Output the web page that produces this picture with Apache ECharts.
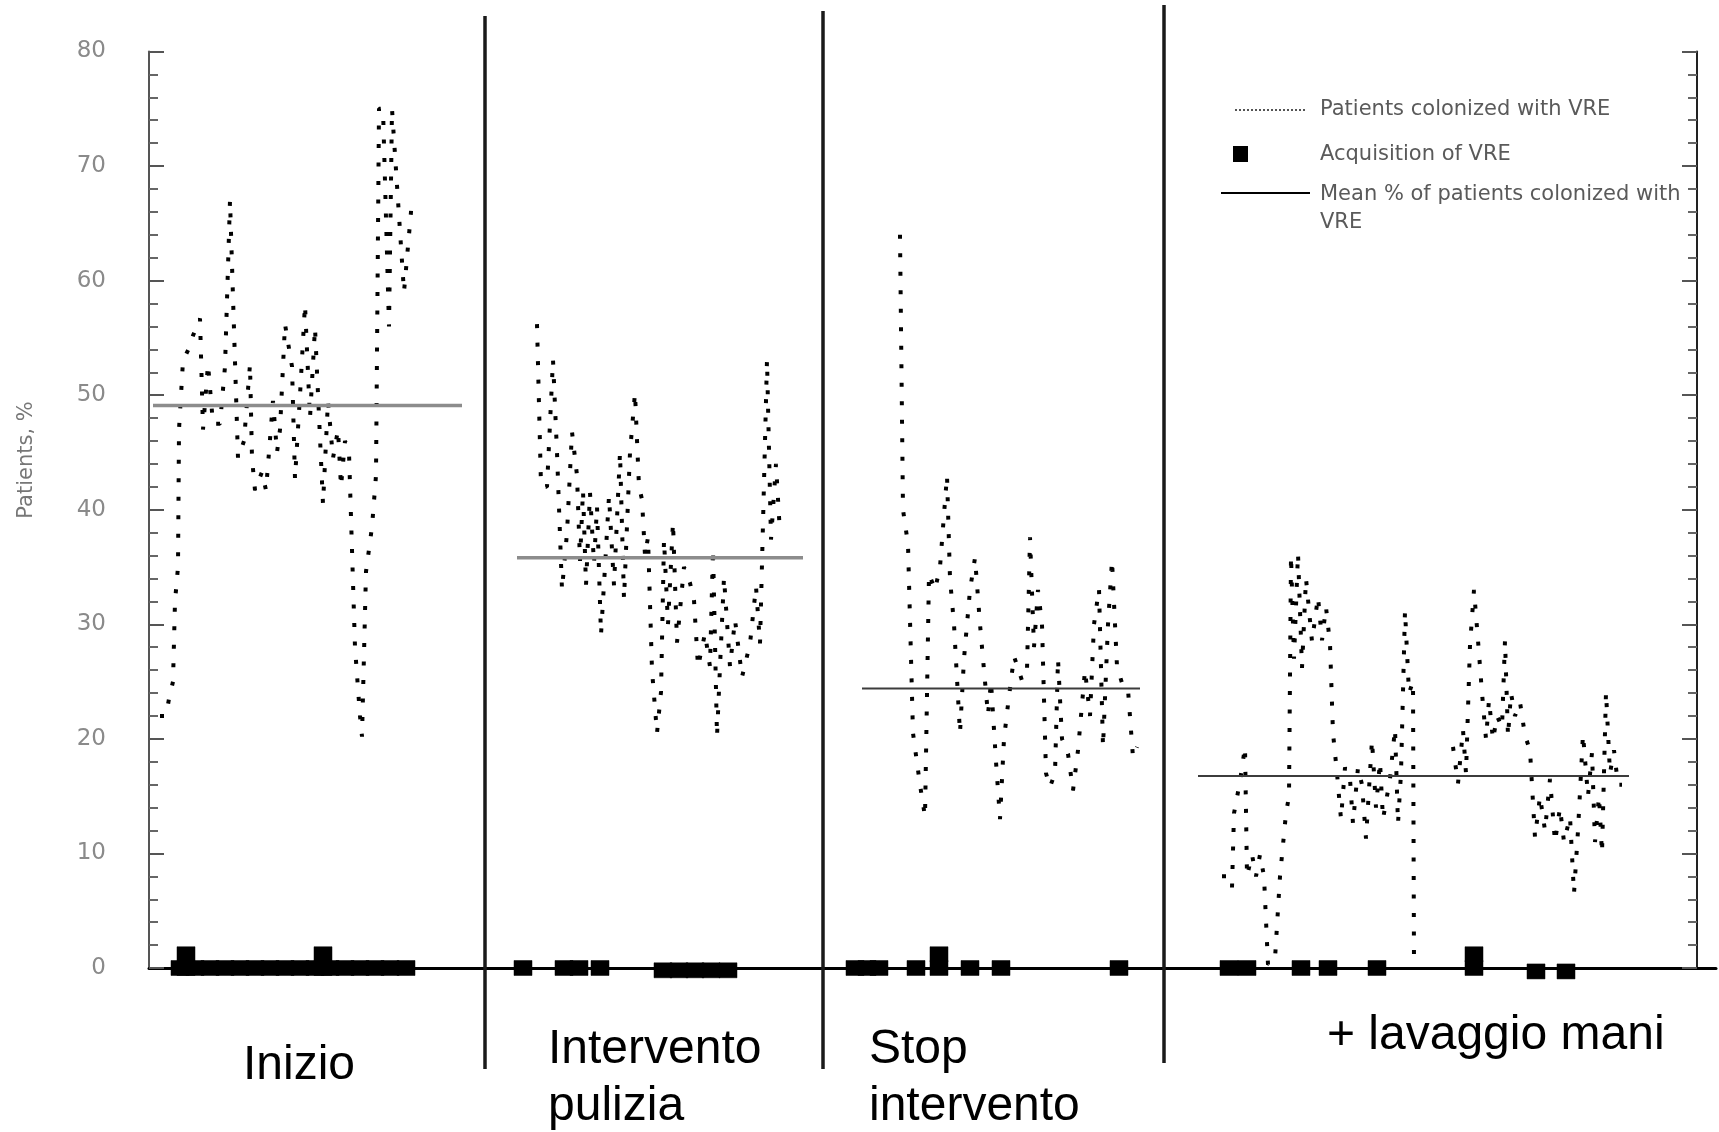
<!DOCTYPE html>
<html>
<head>
<meta charset="utf-8">
<script src="https://cdn.jsdelivr.net/npm/echarts/dist/echarts.min.js"></script>
<style>
html,body{margin:0;padding:0;background:#fff;}
#chart{width:1719px;height:1132px;}
</style>
</head>
<body>
<div id="chart"></div>
<script>
// ---------------- DATA (x = day of study, y = % of patients) ----------------
const yTicks = [0, 10, 20, 30, 40, 50, 60, 70, 80];
const phaseLabels = ['Inizio', 'Intervento\npulizia', 'Stop\nintervento', '+ lavaggio mani'];
const phaseBoundaries = [84, 168.5, 253.75];

const colonizedPhase1 = [[2.75,22],[4.25,22],[5,23.5],[6,25],[6.5,32],[7.25,35],[7.5,47],[8.5,53],[10,54.1],[11,55.2],[12.75,56.7],[13.5,47],[14.75,52.7],[16,47.5],[17.75,47.5],[19,52.5],[20.25,67],[22.25,44.5],[23.75,46],[25.25,52.7],[25.75,44.5],[26.5,41.7],[28.25,43.3],[29.25,41.7],[31,49.5],[32,45],[32.75,47],[34,56.2],[35.75,52.5],[36.5,42.7],[37.75,50],[39,57.9],[40.25,48],[41.5,55.9],[43.5,40.5],[44.75,49.5],[46,44.5],[47.25,47],[48,42],[49,46],[50,45],[51.5,28],[52.75,22],[53.25,20.2],[54.25,34.6],[55.75,38.5],[56.75,43],[57.5,75],[58.5,75],[60,56],[60.75,75],[62.25,67],[63.75,59],[65.75,67]];

const colonizedPhase2 = [[97,56.2],[98,42.1],[99.5,42],[101,53.1],[102,45],[103.25,33],[104.5,38],[105.75,46.8],[107,43],[107.75,35.5],[108.5,41.7],[109.25,33.4],[110.25,41.5],[111.25,35.3],[112,40.3],[113,29.1],[114,35],[115,41.2],[116.25,33.4],[117.75,45],[118.75,32.2],[120.25,45],[121.5,50.2],[122.5,42],[123.25,40.9],[124,36],[124.75,37.6],[125.75,26],[127,20.5],[128,24.1],[128.75,37.4],[129.75,30],[131,38.9],[132,28.4],[133.75,35],[135.25,33.6],[136.25,32.1],[137.25,26.3],[139,29.2],[140.25,26.3],[141,36.6],[142,20.2],[142.75,26.3],[143.75,34.1],[145.25,26.3],[146.5,30.4],[148.25,25.4],[150.25,28.3],[151.75,33.3],[152.75,28.3],[153.5,38.8],[154.5,53.1],[155.5,37.4],[156.75,44],[157.75,37.9]];

const colonizedPhase3 = [[187.75,64],[188.5,40],[189.75,37],[191,20.5],[192.75,16],[194,13.2],[195,34.4],[196.5,33],[197.75,35],[199.5,43],[200.25,34],[201.25,30],[202.75,20.5],[203.75,27],[205.25,33],[206.5,35.8],[207.75,30],[208.75,26],[209.75,22.1],[210.5,25],[211.75,18],[212.75,13],[213.75,20],[214.75,23],[216.25,27.2],[218.25,25.1],[219.5,26],[220.25,37.6],[221.25,28],[222.25,33],[223.25,30],[224.25,17],[225.25,15.8],[226.5,17],[227.25,27],[228.25,20],[229.75,18.7],[231,15.5],[232.25,19],[234,26],[235.25,22],[236.25,30],[237.5,33.1],[238.5,19.3],[239.75,30],[240.75,35.6],[242,26.3],[243.5,24.6],[244.75,24.3],[246,18.4],[247,19.3]];

const colonizedPhase4 = [[268.25,8],[269.75,8],[270.75,7],[271.25,13.5],[272.75,16.3],[274,19.3],[274.5,8],[275.75,9.9],[276.75,8],[277.75,9.9],[278.75,8],[279.75,0.3],[281.5,0.8],[282.75,8],[284.25,13.5],[285,15],[285.5,36],[286.25,27],[287.25,36.2],[288.25,26.2],[289.25,34],[290.75,28.5],[292.25,32.4],[293.25,28.6],[294.25,31.5],[295.25,28.3],[296,20.5],[297,17],[298,13],[299,17.5],[300.25,16.5],[301,12.6],[302.25,17.5],[303.25,16],[304.25,11.3],[305.75,19.9],[306.75,14],[307.75,18],[308.5,13],[310.25,16.5],[311.5,20.9],[312.25,12.6],[313,17],[314,31.2],[315,24],[316,25],[316.25,0.3],[320,'-'],[326,19.3],[327.25,16.1],[328.5,20.8],[329.25,17],[330.25,28.2],[331.25,33],[332.25,28.6],[333.25,24],[334.25,20],[335,23.4],[336,19.9],[337,22],[338.25,21],[339,28.6],[339.75,20.2],[340.5,24],[341.5,22],[342.75,23.2],[344,20.3],[345.25,19],[346.5,11.4],[347.75,15],[349,12],[350.25,16.5],[351.5,11],[352.75,14],[353.75,11],[355.25,13.2],[356.25,6.5],[357.25,12],[358.5,20.4],[359.75,15],[360.75,18.8],[361.5,11],[362.5,15],[363.25,10],[364.25,24.1],[365.25,17],[366.25,19],[367.25,16],[368.25,16]];

const meanValues = [49.1, 35.8, 24.4, 16.75];
const meanSpans = [[1, 78.25], [92, 163.5], [178.25, 247.75], [262.25, 370]];

const acquisitions = [[7.75,0],[9.25,0],[9.25,1.2],[11.5,0],[15.25,0],[19,0],[22.75,0],[26.5,0],[30.25,0],[34,0],[37.75,0],[41.5,0],[43.5,0],[43.5,1.2],[45.25,0],[49,0],[52.75,0],[56.5,0],[60.25,0],[64.25,0],
  [93.5,0],[103.75,0],[107.5,0],[112.75,0],[128.5,-0.2],[132.5,-0.2],[136.5,-0.2],[140.5,-0.2],[144.75,-0.2],
  [176.5,0],[179.5,0],[182.5,0],[191.75,0],[197.5,0],[197.5,1.2],[205.25,0],[213,0],[242.5,0],
  [270,0],[274.5,0],[288,0],[294.75,0],[307,0],[331.25,0],[331.25,1.2],[346.75,-0.3],[354.25,-0.3]];

const legendLabels = ['Patients colonized with VRE', 'Acquisition of VRE', 'Mean % of patients colonized with\nVRE'];
const yAxisTitle = 'Patients, %';

// ---------------- CHART ----------------
const chart = echarts.init(document.getElementById('chart'), null, {renderer: 'canvas'});

const dotted = {color: '#000', width: 4, type: [4, 14.5], cap: 'butt', opacity: 1};
const colonizedSeries = [colonizedPhase1, colonizedPhase2, colonizedPhase3, colonizedPhase4].map(d => ({
  name: legendLabels[0], type: 'line', data: d, symbol: 'none', connectNulls: false,
  lineStyle: dotted, z: 3, silent: true
}));
const meanStyles = [
  {color: '#8c8c8c', width: 3.5},
  {color: '#8c8c8c', width: 3.5},
  {color: '#3c3c3c', width: 2},
  {color: '#3c3c3c', width: 2}
];
const meanSeries = meanValues.map((v, i) => ({
  name: legendLabels[2], type: 'line', symbol: 'none',
  data: [[meanSpans[i][0], v], [meanSpans[i][1], v]],
  lineStyle: meanStyles[i], z: 4, silent: true
}));

const tickStyle = {color: '#555', width: 2};
const option = {
  animation: false,
  backgroundColor: '#fff',
  grid: {left: 149, right: 3, top: 51.5, bottom: 164, containLabel: false},
  xAxis: {
    type: 'value', min: 0, max: 391.75,
    axisLine: {show: true, onZero: true, lineStyle: {color: '#000', width: 3}},
    axisTick: {show: false}, axisLabel: {show: false}, splitLine: {show: false}
  },
  yAxis: [{
    type: 'value', position: 'left', min: yTicks[0], max: yTicks[yTicks.length - 1], interval: 10,
    axisLine: {show: true, onZero: false, lineStyle: {color: '#555', width: 2}},
    axisTick: {show: true, inside: true, length: 15, lineStyle: tickStyle},
    minorTick: {show: true, splitNumber: 5, length: 9, lineStyle: {color: '#666', width: 2}},
    axisLabel: {margin: 43, color: '#8a8a8a', fontFamily: 'DejaVu Sans', fontSize: 23},
    splitLine: {show: false}, minorSplitLine: {show: false}
  }, {
    type: 'value', position: 'right', offset: -19, min: 0, max: 80, interval: 10,
    axisLine: {show: true, onZero: false, lineStyle: {color: '#222', width: 2}},
    axisTick: {show: true, inside: true, length: 15, lineStyle: tickStyle},
    minorTick: {show: true, splitNumber: 5, length: 9, lineStyle: {color: '#666', width: 2}},
    axisLabel: {show: false}, splitLine: {show: false}
  }],
  series: [
    ...colonizedSeries,
    ...meanSeries,
    {
      name: legendLabels[1], type: 'scatter', data: acquisitions, clip: false,
      symbol: 'rect', symbolSize: [18, 15],
      itemStyle: {color: '#000', opacity: 1, borderColor: '#000', borderWidth: 0.5},
      z: 5, silent: true
    }
  ]
};
chart.setOption(option);

// ---------------- ANNOTATIONS (separators, labels, legend) ----------------
const sepExtents = [[16, 1069], [11, 1069], [5, 1063]];
const graphics = phaseBoundaries.map((d, i) => {
  const x = chart.convertToPixel({xAxisIndex: 0}, d);
  return {type: 'line', shape: {x1: x, y1: sepExtents[i][0], x2: x, y2: sepExtents[i][1]},
          style: {stroke: '#1a1a1a', lineWidth: 3.5}, z: 10, silent: true};
});

const phaseFont = '48px "Liberation Sans", Arial, sans-serif';
const phasePos = [[243, 1066, 'middle'], [548, 1021, 'top'], [869, 1021, 'top'], [1327, 1036, 'middle']];
phaseLabels.forEach((t, i) => {
  graphics.push({type: 'text', x: phasePos[i][0], y: phasePos[i][1], silent: true, z: 10,
    style: {text: t, font: phaseFont, fill: '#000', textAlign: 'left', textVerticalAlign: phasePos[i][2], lineHeight: 57}});
});

graphics.push({type: 'text', x: 27, y: 460, rotation: Math.PI / 2, silent: true, z: 10,
  style: {text: yAxisTitle, font: '21px "DejaVu Sans"', fill: '#777', textAlign: 'center', textVerticalAlign: 'middle'}});

const legendFont = '21px "DejaVu Sans"';
graphics.push(
  {type: 'line', shape: {x1: 1235, y1: 110, x2: 1305, y2: 110}, style: {stroke: '#555', lineWidth: 2, lineDash: [2, 2]}, silent: true, z: 10},
  {type: 'text', x: 1320, y: 110, silent: true, z: 10, style: {text: legendLabels[0], font: legendFont, fill: '#5a5a5a', textVerticalAlign: 'middle'}},
  {type: 'rect', shape: {x: 1233, y: 146, width: 15, height: 16}, style: {fill: '#000'}, silent: true, z: 10},
  {type: 'text', x: 1320, y: 155, silent: true, z: 10, style: {text: legendLabels[1], font: legendFont, fill: '#5a5a5a', textVerticalAlign: 'middle'}},
  {type: 'line', shape: {x1: 1221, y1: 193, x2: 1310, y2: 193}, style: {stroke: '#000', lineWidth: 2}, silent: true, z: 10},
  {type: 'text', x: 1320, y: 181, silent: true, z: 10, style: {text: legendLabels[2], font: legendFont, fill: '#5a5a5a', textVerticalAlign: 'top', lineHeight: 28}}
);

chart.setOption({graphic: graphics});
</script>
</body>
</html>
